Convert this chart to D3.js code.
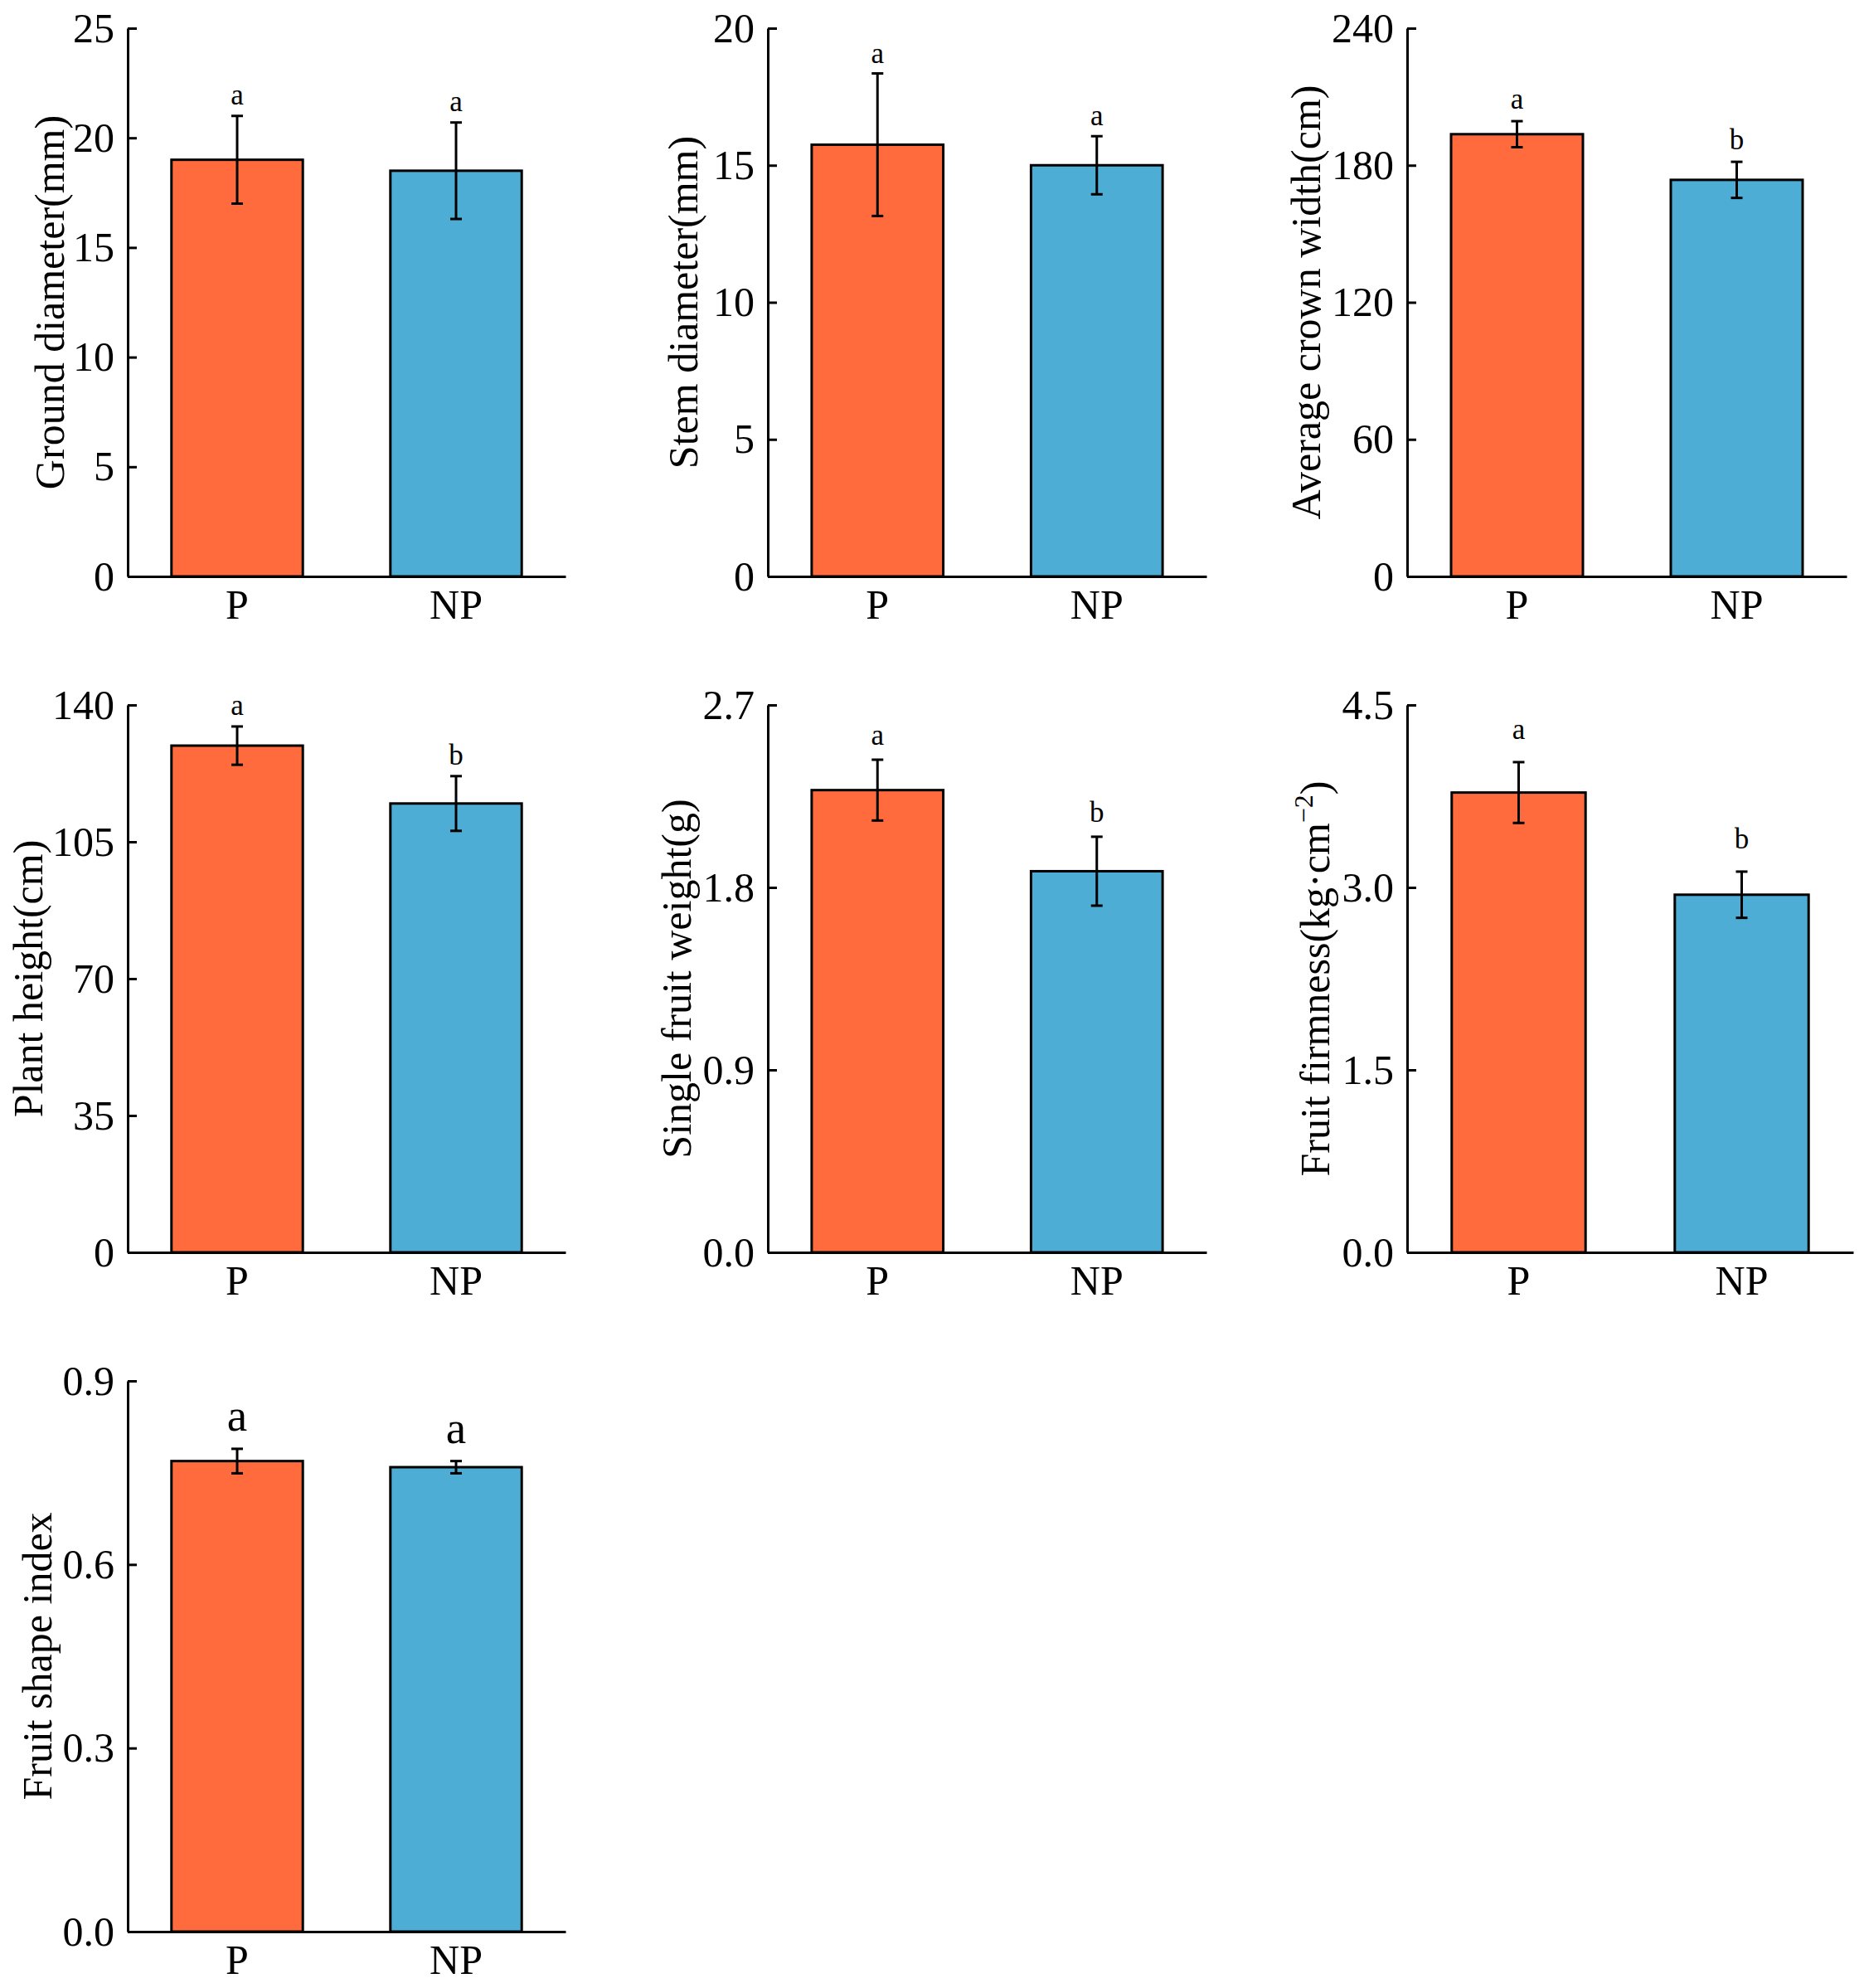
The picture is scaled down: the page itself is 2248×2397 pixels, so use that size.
<!DOCTYPE html>
<html>
<head>
<meta charset="utf-8">
<script src="https://cdn.jsdelivr.net/npm/d3@7"></script>
<style>
  body { margin: 0; background: #fff; }
  svg text { font-family: "Liberation Serif", "Times New Roman", serif; fill: #000; }
</style>
</head>
<body>
<div id="container"></div>
<script>
/* DATA */
const groups = ["P", "NP"];
const titles = [
  "Ground diameter(mm)",
  "Stem diameter(mm)",
  "Average crown width(cm)",
  "Plant height(cm)",
  "Single fruit weight(g)",
  "Fruit firmness(kg·cm",   // superscript added below
  "Fruit shape index"
];
const means = [
  [19.0, 18.5],
  [15.75, 15.0],
  [193.6, 173.6],
  [129.6, 114.8],
  [2.28, 1.88],
  [3.78, 2.94],
  [0.769, 0.759]
];
const sds = [
  [2.0, 2.2],
  [2.6, 1.06],
  [5.7, 7.9],
  [4.9, 7.0],
  [0.15, 0.17],
  [0.25, 0.19],
  [0.02, 0.01]
];
const letters = [
  ["a", "a"], ["a", "a"], ["a", "b"], ["a", "b"], ["a", "b"], ["a", "b"], ["a", "a"]
];
const tickValues = [
  [0, 5, 10, 15, 20, 25],
  [0, 5, 10, 15, 20],
  [0, 60, 120, 180, 240],
  [0, 35, 70, 105, 140],
  [0, 0.9, 1.8, 2.7],
  [0, 1.5, 3.0, 4.5],
  [0, 0.3, 0.6, 0.9]
];
const tickFormats = ["d", "d", "d", "d", ".1f", ".1f", ".1f"];

/* CONSTANTS AND GLOBALS */
const width = 2248, height = 2397;
const colors = ["#FF6B3D", "#4EADD4"];
const serif = '"Liberation Serif", "Times New Roman", serif';
// panel layout: axis origin x, plot top, plot bottom, axis length
const colX = [154, 926, 1697];
const rowTop = [34, 850, 1665];
const rowBottom = [695, 1510, 2329];
const panelCol = [0, 1, 2, 0, 1, 2, 0];
const panelRow = [0, 0, 0, 1, 1, 1, 2];
const panelW = [528, 529, 530, 528, 529, 538, 528];
const titleOffset = [77, 85, 105, 103, 93, 94, 92];
const letterGap = [14, 13, 15, 14, 18, 28, 22];
const letterSize = [35, 35, 35, 35, 35, 35, 55];

const svg = d3.select("#container")
  .append("svg")
  .attr("width", width)
  .attr("height", height)

titles.forEach((title, i) => {
  const x0 = colX[panelCol[i]],
    top = rowTop[panelRow[i]],
    bottom = rowBottom[panelRow[i]];

  /* SCALES */
  const xScale = d3.scaleBand()
    .domain(groups)
    .range([x0, x0 + panelW[i]])
    .paddingInner(0.4)
    .paddingOuter(0.2)

  const yScale = d3.scaleLinear()
    .domain([0, d3.max(tickValues[i])])
    .range([bottom, top])

  const g = svg.append("g")

  // bars
  g.selectAll("rect")
    .data(groups)
    .join("rect")
    .attr("x", d => xScale(d))
    .attr("y", (d, j) => yScale(means[i][j]))
    .attr("width", xScale.bandwidth())
    .attr("height", (d, j) => yScale(0) - yScale(means[i][j]))
    .attr("fill", (d, j) => colors[j])
    .attr("stroke", "#000")
    .attr("stroke-width", 3)

  // error bars
  const cx = d => xScale(d) + xScale.bandwidth() / 2
  const err = g.selectAll("g.err")
    .data(groups)
    .join("g")
    .attr("class", "err")
    .attr("stroke", "#000")
    .attr("stroke-width", 3)
  err.append("line")
    .attr("x1", cx).attr("x2", cx)
    .attr("y1", (d, j) => yScale(means[i][j] - sds[i][j]))
    .attr("y2", (d, j) => yScale(means[i][j] + sds[i][j]))
  err.append("line")
    .attr("x1", d => cx(d) - 7).attr("x2", d => cx(d) + 7)
    .attr("y1", (d, j) => yScale(means[i][j] + sds[i][j]))
    .attr("y2", (d, j) => yScale(means[i][j] + sds[i][j]))
  err.append("line")
    .attr("x1", d => cx(d) - 7).attr("x2", d => cx(d) + 7)
    .attr("y1", (d, j) => yScale(means[i][j] - sds[i][j]))
    .attr("y2", (d, j) => yScale(means[i][j] - sds[i][j]))

  // significance letters
  g.selectAll("text.sig")
    .data(groups)
    .join("text")
    .attr("class", "sig")
    .attr("x", cx)
    .attr("y", (d, j) => yScale(means[i][j] + sds[i][j]) - letterGap[i])
    .attr("text-anchor", "middle")
    .style("font-family", serif)
    .style("font-size", letterSize[i] + "px")
    .text((d, j) => letters[i][j])

  /* AXES */
  const yAxis = d3.axisLeft(yScale)
    .tickValues(tickValues[i])
    .tickFormat(d3.format(tickFormats[i]))
    .tickSizeInner(-11)
    .tickSizeOuter(0)
    .tickPadding(16)
  const yG = g.append("g")
    .attr("transform", `translate(${x0}, 0)`)
    .call(yAxis)

  const xAxis = d3.axisBottom(xScale)
    .tickSize(0)
    .tickPadding(15)
  const xG = g.append("g")
    .attr("transform", `translate(0, ${bottom})`)
    .call(xAxis)

  ;[yG, xG].forEach(a => {
    a.attr("font-family", null).attr("font-size", null)
    a.selectAll("path, line").attr("stroke", "#000").attr("stroke-width", 3)
    a.selectAll("text")
      .style("font-family", serif)
      .style("font-size", "50px")
  })

  // y title
  const t = g.append("text")
    .attr("transform", `translate(${x0 - titleOffset[i]}, ${(top + bottom) / 2}) rotate(-90)`)
    .attr("text-anchor", "middle")
    .style("font-family", serif)
    .style("font-size", "50px")
  t.append("tspan").text(title)
  if (i === 5) {
    t.append("tspan").style("font-size", "32px").attr("dy", -20).text("−2")
    t.append("tspan").attr("dy", 20).text(")")
  }
})
</script>
</body>
</html>
